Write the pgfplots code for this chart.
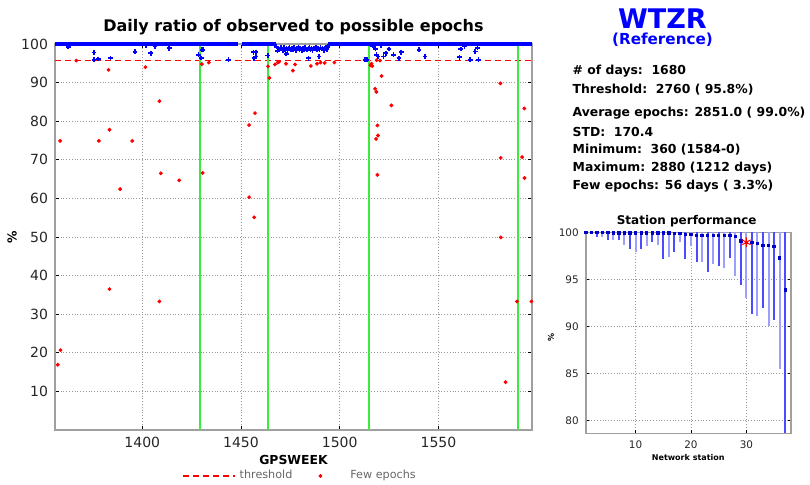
\documentclass[border=0pt]{standalone}
\usepackage{pgfplots}
\pgfplotsset{compat=1.18}
\usepackage{fontspec}
\setmainfont{DejaVu Sans}

\definecolor{gline}{RGB}{60,235,60}
\definecolor{frame}{RGB}{160,160,160}
\pgfplotsset{
  threshleg/.style={legend image code/.code={\draw[##1, red, line width=0.6pt] (0pt,0pt) -- (26pt,0pt);}},
  dotleg/.style={legend image code/.code={\path[draw=none, fill=none] (0pt,-1pt) rectangle (20pt,1pt); \draw[##1] plot coordinates {(7pt,0pt)};}},
}

\begin{document}
\begin{tikzpicture}
\path[use as bounding box] (0,0) rectangle (405pt,242pt);

% texts on the right
\node[font=\bfseries\fontsize{13.5}{15}\selectfont, text=blue] at (331.25pt,232.85pt) {WTZR};
\node[font=\bfseries\fontsize{7.6}{8.5}\selectfont, text=blue] at (331.25pt,222.35pt) {(Reference)};
\begin{scope}[every node/.style={anchor=west, inner sep=0pt, font=\bfseries\fontsize{6.2}{7}\selectfont}]
\node at (286.15pt,206.65pt) {\# of days:\ \ 1680};
\node at (286.15pt,197.35pt) {Threshold:\ \ 2760 (\ 95.8\%)};
\node at (286.15pt,185.35pt) {Average epochs: 2851.0 (\ 99.0\%)};
\node at (286.15pt,176.15pt) {STD:\ \ 170.4};
\node at (286.15pt,167pt) {Minimum:\ \ 360 (1584-0)};
\node at (286.15pt,157.85pt) {Maximum: 2880 (1212 days)};
\node at (286.15pt,149.15pt) {Few epochs: 56 days (\ 3.3\%)};
\end{scope}
\node[font=\bfseries\fontsize{8}{9}\selectfont] at (146.75pt,228.5pt) {Daily ratio of observed to possible epochs};
\node[font=\bfseries\fontsize{6}{7}\selectfont] at (343.35pt,131.65pt) {Station performance};

\begin{axis}[
  at={(27.5pt,27pt)}, anchor=south west,
  scale only axis, width=238.5pt, height=193pt,
  xmin=1355.8, xmax=1597.4, ymin=0, ymax=100,
  clip=false,
  xtick={1400,1450,1500,1550}, ytick={10,20,...,100},
  grid=major, grid style={densely dotted, gray!80, line width=0.4pt},
  axis line style={frame, line width=1pt},
  tick style={black, line width=0.4pt}, major tick length=2pt,
  ticklabel style={font=\fontsize{7}{8}\selectfont, text=black!85},
  /pgf/number format/assume math mode=true,
  /pgf/number format/1000 sep={},
  xlabel={GPSWEEK},
  xlabel style={font=\bfseries\fontsize{6.2}{7}\selectfont, at={(axis description cs:0.5,-0.0777)}, anchor=center},
  ylabel={\%},
  ylabel style={font=\bfseries\fontsize{6.2}{7}\selectfont, at={(axis description cs:-0.09,0.5)}, anchor=center},
  legend style={at={(0.516,-0.119)}, anchor=center, draw=none, fill=none,
    legend columns=2, font=\fontsize{5.6}{6.5}\selectfont, text=gray!80!black,
    /tikz/every even column/.append style={column sep=5pt}},
]
\addplot[red, dash pattern=on 3pt off 2pt, line width=0.5pt, threshleg]
  coordinates {(1355.8,95.8) (1597.4,95.8)};
\addlegendentry{threshold}

\addplot[gline, line width=1pt, forget plot, unbounded coords=jump] coordinates {
  (1429.4,0) (1429.4,100) (1429.4,nan)
  (1463.7,0) (1463.7,100) (1463.7,nan)
  (1514.7,0) (1514.7,100) (1514.7,nan)
  (1590.1,0) (1590.1,100)
};

\addplot[blue, line width=1.8pt, forget plot, unbounded coords=jump] coordinates {
  (1355.8,100) (1448.5,100) (1449,nan)
  (1450.5,100) (1467.8,100) (1468,nan)
  (1494.3,100) (1597.4,100)
};

\addplot[only marks, blue, mark=+, mark size=1.2pt, line width=0.8pt, forget plot] coordinates {
  (1362.5,99.3) (1375.6,97.8) (1375.6,95.9) (1377.7,96.1) (1384.0,96.4) (1396.3,98.0)
  (1402.0,99.6) (1404.3,97.6) (1406.5,99.4) (1413.6,98.9) (1428.4,97.2) (1430.3,98.5)
  (1429.9,96.4) (1430.7,98.5) (1443.6,95.9) (1456.3,97.9) (1457.6,97.9) (1456.6,96.3)
  (1457.6,96.8) (1463.6,97.0) (1472.9,97.4) (1484.2,96.3) (1489.5,96.8) (1512.9,95.9)
  (1513.8,95.9) (1516.0,99.8) (1517.0,99.5) (1517.7,99.6) (1518.2,98.7) (1518.7,97.2)
  (1519.4,96.8) (1521.0,99.7) (1522.1,96.8) (1523.3,97.6) (1525.0,98.7) (1527.2,97.2)
  (1530.0,96.3) (1531.2,97.9) (1540.2,98.5) (1543.2,96.8) (1560.6,96.6) (1561.3,98.7)
  (1563.3,99.4) (1566.1,95.9) (1568.6,98.1) (1569.8,99.0) (1570.3,95.9)
  (1468.0,99.3) (1468.5,98.2) (1469.1,98.9) (1469.6,98.5) (1470.2,99.1) (1470.7,98.7)
  (1471.3,98.4) (1471.8,99.0) (1472.4,98.6) (1473.0,98.9) (1473.5,98.3) (1474.1,98.8)
  (1474.6,99.1) (1475.2,98.6) (1475.7,98.9) (1476.3,98.5) (1476.9,99.0) (1477.4,98.7)
  (1478.0,98.4) (1478.5,98.9) (1479.1,99.2) (1479.6,98.6) (1480.2,98.8) (1480.8,98.3)
  (1481.3,98.9) (1481.9,98.6) (1482.4,99.0) (1483.0,98.7) (1483.5,98.5) (1484.1,98.9)
  (1484.7,99.1) (1485.2,98.6) (1485.8,98.8) (1486.3,98.4) (1486.9,98.9) (1487.4,98.7)
  (1488.0,99.0) (1488.6,98.5) (1489.1,98.8) (1489.7,98.6) (1490.2,99.1) (1490.8,98.7)
  (1491.3,98.9) (1491.9,98.4) (1492.5,98.8) (1493.0,99.0) (1493.6,98.6) (1494.1,99.3)
};

\addplot[only marks, red, mark=*, mark size=0.75pt, dotleg] coordinates {
  (1357.2,16.9) (1358.6,20.7) (1358.4,74.9) (1366.6,95.7) (1378.0,74.9) (1382.9,93.3)
  (1383.4,77.8) (1383.4,36.5) (1388.8,62.4) (1394.9,74.9) (1401.6,94.0) (1408.7,85.2)
  (1408.7,33.3) (1409.4,66.5) (1418.7,64.7) (1430.2,94.8) (1430.6,66.6) (1433.7,95.2)
  (1454.1,79.0) (1454.1,60.3) (1456.7,55.1) (1457.1,82.1) (1463.7,94.2) (1464.4,91.2)
  (1467.2,94.7) (1468.6,95.2) (1469.3,95.4) (1472.8,94.9) (1476.3,93.1) (1477.4,94.7)
  (1485.4,94.3) (1488.5,94.9) (1490.3,95.2) (1492.4,95.1) (1497.3,95.2) (1515.6,94.5)
  (1516.1,94.9) (1516.5,94.3) (1518.7,95.8) (1517.9,88.4) (1518.6,87.6) (1519.1,78.9)
  (1519.4,76.3) (1518.4,75.4) (1519.1,66.1) (1520.4,95.7) (1521.2,91.7) (1526.2,84.1)
  (1581.4,89.8) (1581.6,70.5) (1581.6,49.9) (1584.0,12.4) (1589.8,33.3) (1592.4,70.7)
  (1593.5,83.3) (1593.6,65.3) (1597.1,33.3)
};
\addlegendentry{Few epochs}
\end{axis}

\begin{axis}[
  at={(292.85pt,25.35pt)}, anchor=south west,
  scale only axis, width=102.5pt, height=100.5pt,
  xmin=1, xmax=38, ymin=78.66, ymax=100,
  clip=false,
  xtick={10,20,30}, ytick={80,85,...,100},
  grid=major, grid style={densely dotted, gray!80, line width=0.4pt},
  axis line style={frame, line width=0.8pt},
  tick style={black, line width=0.4pt}, major tick length=1.5pt,
  ticklabel style={font=\fontsize{5.2}{6}\selectfont, text=black!85},
  /pgf/number format/assume math mode=true,
  xlabel={Network station},
  xlabel style={font=\bfseries\fontsize{4}{5}\selectfont, at={(axis description cs:0.5,-0.119)}, anchor=center},
  ylabel={\%},
  ylabel style={font=\bfseries\fontsize{4}{5}\selectfont, at={(axis description cs:-0.169,0.479)}, anchor=center},
]
\addplot[blue!70, line width=1pt, forget plot, unbounded coords=jump] coordinates {
  (1,100) (1,99.8) (1,nan) (3,100) (3,99.5) (3,nan) (5,100) (5,99.2) (5,nan)
  (7,100) (7,99.2) (7,nan) (9,100) (9,98.2) (9,nan) (11,100) (11,98.2) (11,nan)
  (13,100) (13,99.0) (13,nan) (15,100) (15,97.2) (15,nan) (17,100) (17,97.9) (17,nan)
  (19,100) (19,97.2) (19,nan) (21,100) (21,96.8) (21,nan) (23,100) (23,95.8) (23,nan)
  (25,100) (25,96.4) (25,nan) (27,100) (27,97.3) (27,nan) (29,100) (29,94.4) (29,nan)
  (31,100) (31,91.3) (31,nan) (33,100) (33,91.95) (33,nan) (35,100) (35,90.7) (35,nan)
  (37,100) (37,78.66)
};
\addplot[blue!38, line width=1pt, forget plot, unbounded coords=jump] coordinates {
  (2,100) (2,99.8) (2,nan) (4,100) (4,99.5) (4,nan) (6,100) (6,99.2) (6,nan)
  (8,100) (8,98.6) (8,nan) (10,100) (10,97.9) (10,nan) (12,100) (12,98.5) (12,nan)
  (14,100) (14,98.65) (14,nan) (16,100) (16,97.4) (16,nan) (18,100) (18,99.0) (18,nan)
  (20,100) (20,98.5) (20,nan) (22,100) (22,96.8) (22,nan) (24,100) (24,96.6) (24,nan)
  (26,100) (26,96.2) (26,nan) (28,100) (28,95.4) (28,nan) (30,100) (30,93.0) (30,nan)
  (32,100) (32,91.1) (32,nan) (34,100) (34,90.0) (34,nan) (36,100) (36,85.5)
};
\addplot[only marks, mark=square*, mark size=0.6pt, color=blue!80!black, forget plot] coordinates {
  (1,100) (2,100) (3,100) (4,100) (5,100) (6,99.95) (7,99.95) (8,99.93) (9,99.93)
  (10,99.93) (11,99.93) (12,99.93) (13,99.93) (14,99.93) (15,99.92) (16,99.92)
  (17,99.9) (18,99.9) (19,99.8) (20,99.8) (21,99.7) (22,99.7) (23,99.7) (24,99.65)
  (25,99.65) (26,99.65) (27,99.65) (28,99.57) (29,99.08) (30,98.94) (31,98.9)
  (32,98.8) (33,98.58) (34,98.58) (35,98.5) (36,97.3) (37,93.9)
};
\addplot[only marks, red, mark=asterisk, mark size=2.4pt, line width=0.5pt, forget plot] coordinates {(30,98.94)};
\end{axis}
\end{tikzpicture}
\end{document}
